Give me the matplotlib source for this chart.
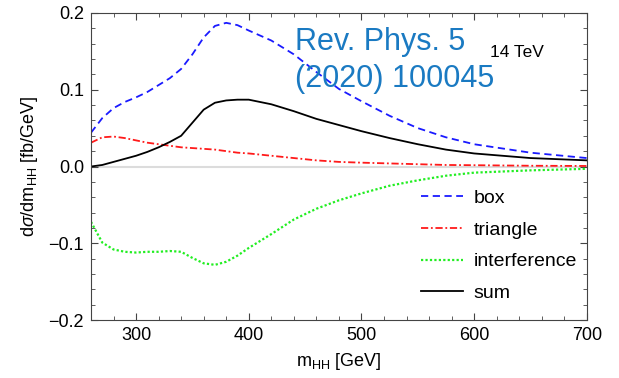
import matplotlib
matplotlib.use("Agg")
import matplotlib.pyplot as plt
from matplotlib.ticker import MultipleLocator

plt.rcParams["font.family"] = ["Liberation Sans", "DejaVu Sans"]
plt.rcParams["mathtext.fontset"] = "custom"
plt.rcParams["mathtext.rm"] = "Liberation Sans"
plt.rcParams["mathtext.it"] = "Liberation Sans:italic"

# m_HH grid [GeV]
m_hh = [260, 270, 280, 290, 300, 310, 320, 330, 340, 350, 360, 370, 380,
        390, 400, 420, 440, 460, 480, 500, 525, 550, 575, 600, 650, 700]

box = [0.044, 0.063, 0.076, 0.084, 0.090, 0.097, 0.106, 0.115, 0.127, 0.146,
       0.168, 0.183, 0.187, 0.184, 0.177, 0.164, 0.146, 0.123, 0.101, 0.085,
       0.066, 0.050, 0.038, 0.029, 0.018, 0.011]
triangle = [0.031, 0.038, 0.039, 0.037, 0.034, 0.031, 0.029, 0.027, 0.025, 0.024,
            0.023, 0.022, 0.020, 0.018, 0.017, 0.014, 0.011, 0.008, 0.006, 0.005,
            0.004, 0.003, 0.002, 0.0017, 0.001, 0.0007]
interference = [-0.072, -0.099, -0.108, -0.111, -0.112, -0.111, -0.111, -0.110,
                -0.111, -0.119, -0.126, -0.128, -0.124, -0.116, -0.106, -0.088,
                -0.069, -0.055, -0.044, -0.035, -0.025, -0.018, -0.012, -0.008,
                -0.005, -0.003]
total = [0.000, 0.002, 0.006, 0.010, 0.014, 0.019, 0.025, 0.032, 0.040, 0.057,
         0.074, 0.083, 0.086, 0.087, 0.087, 0.081, 0.072, 0.062, 0.054, 0.046,
         0.037, 0.029, 0.022, 0.017, 0.011, 0.008]

fig = plt.figure(figsize=(6.19, 3.78), dpi=100)
ax = fig.add_axes([0.147, 0.153, 0.801, 0.813])

ax.axhline(0, color="#dcdcdc", lw=1.5, zorder=1)
ax.plot(m_hh, box, color="#1a1aff", lw=1.3, ls=(0, (4, 2.5)), label="box")
ax.plot(m_hh, triangle, color="#ff1a1a", lw=1.3, ls=(0, (4, 1.5, 1, 1.5)), label="triangle")
ax.plot(m_hh, interference, color="#22ee22", lw=1.6, ls=(0, (1, 1)), label="interference")
ax.plot(m_hh, total, color="black", lw=1.3, label="sum")

ax.set_xlim(260, 700)
ax.set_ylim(-0.2, 0.2)
ax.xaxis.set_major_locator(MultipleLocator(100))
ax.xaxis.set_minor_locator(MultipleLocator(20))
ax.yaxis.set_major_locator(MultipleLocator(0.1))
ax.yaxis.set_minor_locator(MultipleLocator(0.02))
ax.yaxis.set_major_formatter(lambda v, p: f"{v:.1f}".replace("-", "\u2212"))
ax.tick_params(which="both", direction="in", top=True, right=True,
               labelsize=13, color="#444444", pad=5)
ax.tick_params(which="major", length=5)
ax.tick_params(which="minor", length=3)
for s in ax.spines.values():
    s.set_color("#444444")

ax.set_xlabel(r"m$_{\mathrm{HH}}$ [GeV]", fontsize=13, labelpad=5)
ax.set_ylabel(r"d$\sigma$/dm$_{\mathrm{HH}}$ [fb/GeV]", fontsize=13, labelpad=6)

ax.legend(loc="upper left", bbox_to_anchor=(0.63, 0.482), frameon=False,
          fontsize=14, handlelength=2.15, labelspacing=0.72, handletextpad=0.55)

fig.text(0.477, 0.868, "Rev. Phys. 5", color="#1a7ac2", fontsize=22,
         va="baseline", ha="left")
fig.text(0.477, 0.770, "(2020) 100045", color="#1a7ac2", fontsize=22,
         va="baseline", ha="left")
fig.text(0.792, 0.849, "14 TeV", fontsize=12.5, va="baseline", ha="left")

fig.savefig("out.png", dpi=100)
